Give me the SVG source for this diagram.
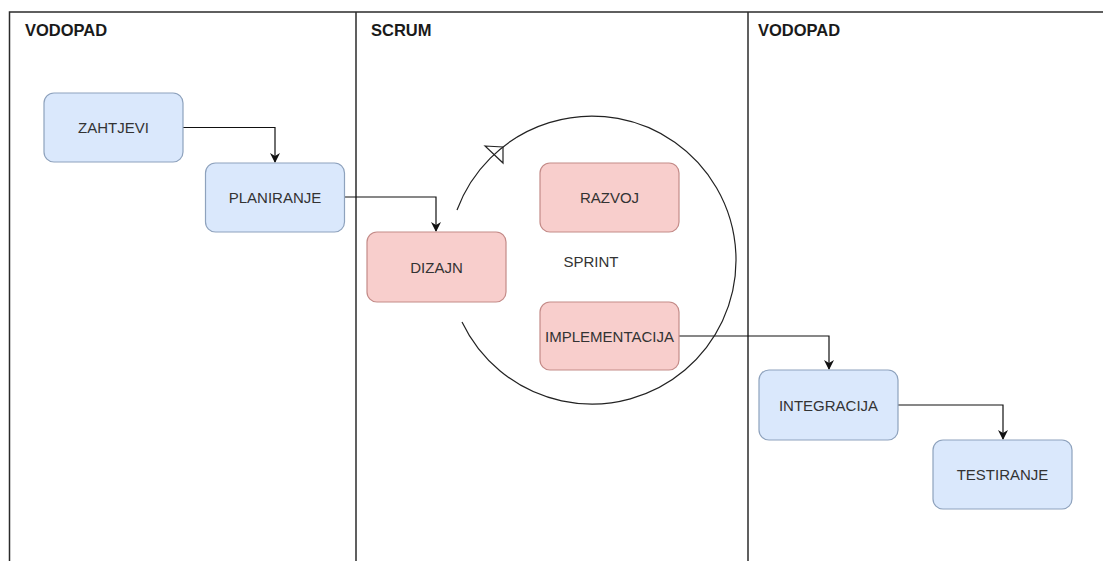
<svg xmlns="http://www.w3.org/2000/svg" width="1103" height="561" viewBox="0 0 1103 561">
<defs>
<style>
.lane{stroke:#2b2b2b;stroke-width:1.5;fill:none}
.hdr{font-family:"Liberation Sans",Arial,sans-serif;font-weight:bold;font-size:16.5px;fill:#1a1a1a}
.blue{fill:#dae8fc;stroke:#8ea2bd;stroke-width:1.2}
.red{fill:#f8cecc;stroke:#c48b88;stroke-width:1.2}
.lbl{font-family:"Liberation Sans",Arial,sans-serif;font-size:15px;fill:#333;text-anchor:middle}
.edge{stroke:#111;stroke-width:1.2;fill:none}
.arc{stroke:#222;stroke-width:1.2;fill:none}
</style>
<marker id="arr" viewBox="0 0 10 10" refX="9" refY="5" markerWidth="10" markerHeight="10" markerUnits="userSpaceOnUse" orient="auto">
<path d="M0,0 L10,5 L0,10 L3,5 Z" fill="#111"/>
</marker>
</defs>
<rect width="1103" height="561" fill="#ffffff"/>
<g id="lanes">
<path class="lane" d="M9.5,570 V12 H1103"/>
<path class="lane" d="M356,12 V570"/>
<path class="lane" d="M748,12 V570"/>
<text class="hdr" x="25" y="36">VODOPAD</text>
<text class="hdr" x="371" y="36">SCRUM</text>
<text class="hdr" x="758" y="36">VODOPAD</text>
</g>
<g id="connectors">
<path class="edge" d="M183,127.5 H275 V162" marker-end="url(#arr)"/>
<path class="edge" d="M344,197 H436 V231" marker-end="url(#arr)"/>
<path class="edge" d="M679,336 H829 V369" marker-end="url(#arr)"/>
<path class="edge" d="M898,405 H1003 V439" marker-end="url(#arr)"/>
<path class="arc" d="M457,210 A144,144 0 1 1 462,322"/>
<polygon class="arc" points="485,146 503,147 503,163"/>
</g>
<g id="zahtjevi">
<rect class="blue" x="44" y="93" width="139" height="69" rx="10"/>
<text class="lbl" x="113.5" y="133">ZAHTJEVI</text>
</g>
<g id="planiranje">
<rect class="blue" x="205.5" y="163" width="139" height="69" rx="10"/>
<text class="lbl" x="275" y="203">PLANIRANJE</text>
</g>
<g id="dizajn">
<rect class="red" x="367" y="232" width="139" height="70" rx="10"/>
<text class="lbl" x="436.5" y="272.5">DIZAJN</text>
</g>
<g id="razvoj">
<rect class="red" x="540" y="163" width="139" height="69" rx="10"/>
<text class="lbl" x="609.5" y="203">RAZVOJ</text>
</g>
<g id="sprint">
<text class="lbl" x="591" y="266.5">SPRINT</text>
</g>
<g id="implementacija">
<rect class="red" x="540" y="302" width="139" height="68" rx="10"/>
<text class="lbl" x="609.5" y="341.5">IMPLEMENTACIJA</text>
</g>
<g id="integracija">
<rect class="blue" x="759" y="370" width="139" height="70" rx="10"/>
<text class="lbl" x="828.5" y="410.5">INTEGRACIJA</text>
</g>
<g id="testiranje">
<rect class="blue" x="933" y="440" width="139" height="69" rx="10"/>
<text class="lbl" x="1002.5" y="480">TESTIRANJE</text>
</g>
</svg>
